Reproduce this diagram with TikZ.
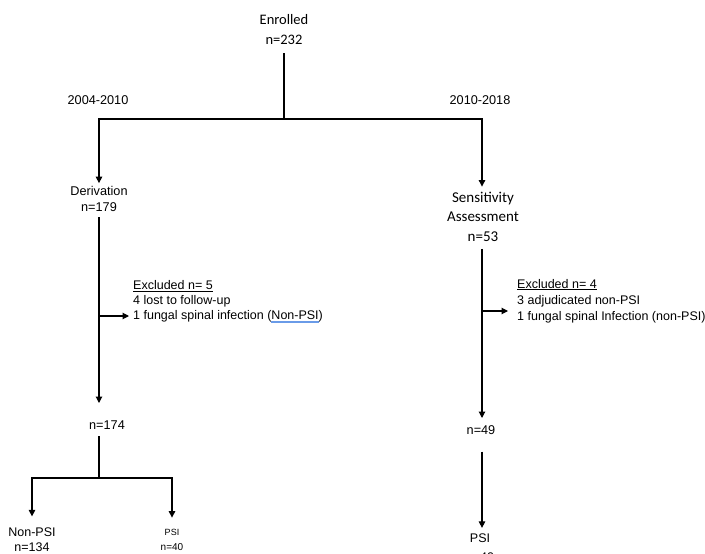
\documentclass[tikz,border=0pt]{standalone}
\usepackage{fontspec}
\setmainfont{Liberation Sans}
\newfontfamily\carl{Carlito}
\usetikzlibrary{arrows.meta}
\definecolor{ulblue}{HTML}{6A9BE8}
\newcommand\blkul[1]{{\setbox0=\hbox{#1}\rlap{\rule[-1.8pt]{\wd0}{0.8pt}}\box0}}
\newcommand\bluul[1]{{\setbox0=\hbox{#1}\rlap{\color{ulblue}\rule[-3.2pt]{\wd0}{2pt}}\box0}}
\tikzset{
  conn/.style={line width=1.1pt, black},
  arr/.style={conn, -{Triangle[length=6.5pt,width=6.5pt]}},
  ar/.style={font=\fontsize{12.7}{16}\selectfont, align=center, inner sep=0pt},
  ca/.style={font=\carl\fontsize{14.5}{20.5}\selectfont, align=center, inner sep=0pt},
  exl/.style={font=\fontsize{12.5}{15}\selectfont, align=left, inner sep=0pt, anchor=west},
}
\begin{document}
\begin{tikzpicture}[x=1pt,y=-1pt]
\useasboundingbox (0,0) rectangle (705,554);
% nodes
\node[ca] (enr) at (284,29.5) {Enrolled\\n=232};
\node[ar] (y1) at (98,100) {2004-2010};
\node[ar] (y2) at (480,100) {2010-2018};
\node[ar] (der) at (99,199) {Derivation\\n=179};
\node[ca, font=\carl\fontsize{15}{19.5}\selectfont] (sen) at (483,216.5) {Sensitivity\\Assessment\\n=53};
\node[exl] (ex1) at (133,302) {\blkul{Excluded n= 5}\\4 lost to follow-up\\1 fungal spinal infection (\bluul{Non-PSI})};
\node[exl, font=\fontsize{12.5}{16}\selectfont] (ex2) at (517,301) {\blkul{Excluded n= 4}\\3 adjudicated non-PSI\\1 fungal spinal Infection (non-PSI)};
\node[ar] (n174) at (107,425) {n=174};
\node[ar, font=\fontsize{12.5}{15}\selectfont] (nonpsi) at (32,539.5) {Non-PSI\\n=134};
\node[ar, font=\fontsize{10}{15}\selectfont] (psil) at (172,539.5) {{\fontsize{9}{9}\selectfont PSI}\\n=40};
\node[ar] (n49) at (481,430) {n=49};
\node[ar, font=\fontsize{12.5}{19}\selectfont] (psir) at (480,547.5) {PSI\\n=40};
% connectors
\coordinate (j1) at (284,119);
\draw[conn, shorten <=8pt] (enr.south) -- (j1);
\draw[arr, shorten >=3pt] (j1) -| (der.north);
\coordinate (jr) at (482,119);
\draw[arr, shorten >=5pt] (j1) -- (jr) -- (jr |- sen.north);
\coordinate (t174) at (99,403);
\draw[arr, shorten <=5.5pt] (der.south) -- (t174);
\coordinate (b1) at (99,316);
\draw[arr, shorten >=4pt] (b1) -- (b1 -| ex1.west);
\coordinate (j2) at (99,478);
\draw[conn, shorten <=6.5pt] (n174.south -| j2) -- (j2);
\draw[arr, shorten >=11pt] (j2) -| (nonpsi.north);
\draw[arr, shorten >=11pt] (j2) -| (psil.north);
\coordinate (t49) at (482,418);
\draw[arr, shorten <=7.5pt] (sen.south -| jr) -- (t49);
\coordinate (b2) at (482,311);
\draw[arr, shorten >=9pt] (b2) -- (b2 -| ex2.west);
\draw[arr, shorten <=17pt, shorten >=5.5pt] (n49.south -| jr) -- (jr |- psir.north);
\end{tikzpicture}
\end{document}
